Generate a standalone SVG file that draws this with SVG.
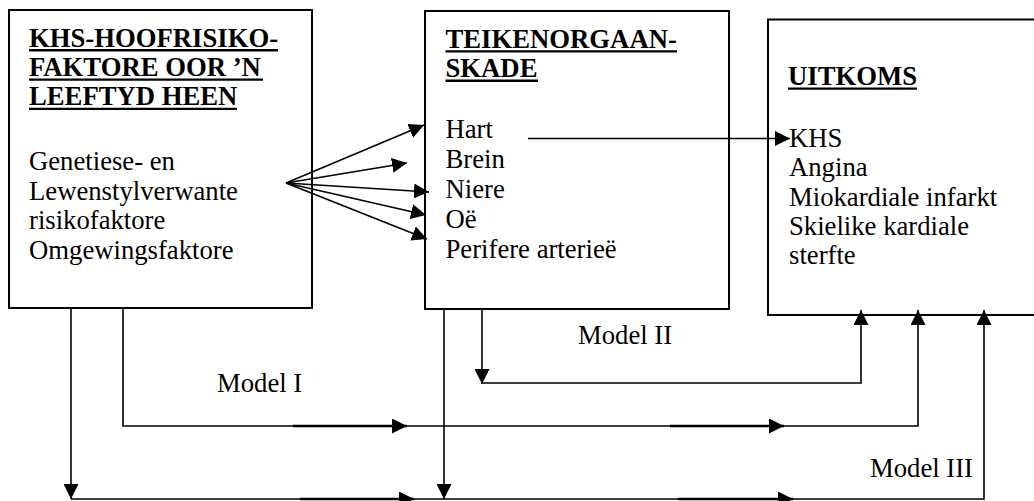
<svg xmlns="http://www.w3.org/2000/svg" width="1034" height="501" viewBox="0 0 1034 501">
<defs>
<style>
.box{fill:#fff;stroke:#000;stroke-width:2}
.t{font-family:"Liberation Serif","Times New Roman",serif;font-size:26.7px;fill:#000}
.b{font-weight:bold}
.ul{stroke:#000;stroke-width:2.4}
.c{fill:none;stroke:#000;stroke-width:1.6}
.ca{fill:none;stroke:#000;stroke-width:1.6;marker-end:url(#ah)}
.ov{fill:none;stroke:#000;stroke-width:2.6;marker-end:url(#ah)}
</style>
<marker id="ah" markerUnits="userSpaceOnUse" markerWidth="16" markerHeight="15" refX="15" refY="7.5" orient="auto" viewBox="0 0 16 15">
<path d="M0,0 L15,7.5 L0,15 z" fill="#000"/>
</marker>
</defs>
<rect width="1034" height="501" fill="#fff"/>
<g id="node-risk">
<rect class="box" x="9" y="10" width="303" height="298"/>
<text class="t b" x="29" y="46.7">KHS-HOOFRISIKO-</text>
<line class="ul" x1="29" y1="50.3" x2="278" y2="50.3"/>
<text class="t b" x="29" y="76">FAKTORE OOR ’N</text>
<line class="ul" x1="29" y1="79.6" x2="263" y2="79.6"/>
<text class="t b" x="29" y="105.3">LEEFTYD HEEN</text>
<line class="ul" x1="29" y1="108.9" x2="237" y2="108.9"/>
<text class="t" x="29" y="170">Genetiese- en</text>
<text class="t" x="29" y="199.5">Lewenstylverwante</text>
<text class="t" x="29" y="229.2">risikofaktore</text>
<text class="t" x="29" y="259">Omgewingsfaktore</text>
</g>
<g id="node-organ">
<rect class="box" x="425" y="11" width="304" height="298"/>
<text class="t b" x="445.5" y="48">TEIKENORGAAN-</text>
<line class="ul" x1="445.5" y1="51.4" x2="677" y2="51.4"/>
<text class="t b" x="445.5" y="77.3">SKADE</text>
<line class="ul" x1="445.5" y1="80.7" x2="538" y2="80.7"/>
<text class="t" x="445.5" y="137.7">Hart</text>
<text class="t" x="445.5" y="167.7">Brein</text>
<text class="t" x="445.5" y="198">Niere</text>
<text class="t" x="445.5" y="227.7">Oë</text>
<text class="t" x="445.5" y="258">Perifere arterieë</text>
</g>
<g id="node-outcome">
<rect class="box" x="768" y="19.5" width="300" height="295.5"/>
<text class="t b" x="788" y="85">UITKOMS</text>
<line class="ul" x1="788" y1="88.6" x2="917" y2="88.6"/>
<text class="t" x="789" y="146.7">KHS</text>
<text class="t" x="789" y="176.3">Angina</text>
<text class="t" x="789" y="205.8">Miokardiale infarkt</text>
<text class="t" x="789" y="235">Skielike kardiale</text>
<text class="t" x="789" y="264">sterfte</text>
</g>
<g id="connectors">
<path class="ca" d="M286,183 L424,125"/>
<path class="ca" d="M286,183 L407,163"/>
<path class="ca" d="M286,183 L429,192"/>
<path class="ca" d="M286,183 L426,215"/>
<path class="ca" d="M286,183 L427,239"/>
<path class="ca" d="M528,138.5 L790,138.5"/>
<path class="ca" d="M482,309 L482,384"/>
<path class="ca" d="M482,383 L861,383 L861,310"/>
<path class="ca" d="M123,308 L123,426 L918,426 L918,310"/>
<path class="ov" d="M293,426 L407,426"/>
<path class="ov" d="M670,426 L784,426"/>
<path class="ca" d="M71,308 L71,499"/>
<path class="ca" d="M71,499 L984,499 L984,310"/>
<path class="ov" d="M300,499 L414,499"/>
<path class="ov" d="M678,499 L793,499"/>
<path class="ca" d="M444,309 L444,499"/>
</g>
<g id="labels">
<text class="t" x="217" y="392">Model I</text>
<text class="t" x="578" y="344">Model II</text>
<text class="t" x="870" y="477">Model III</text>
</g>
</svg>
